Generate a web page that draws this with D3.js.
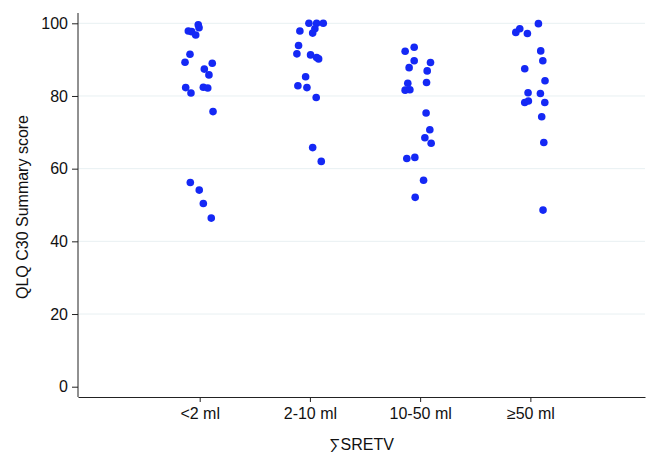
<!DOCTYPE html>
<html>
<head>
<meta charset="utf-8">
<script src="https://cdn.jsdelivr.net/npm/d3@7"></script>
<style>
	body { margin: 0; background: #fff; }
	svg { display: block; font-family: 'Liberation Sans', Arial, sans-serif; }
</style>
</head>
<body>
<div id="chart"></div>
<script>
const categories = ['<2 ml', '2-10 ml', '10-50 ml', '≥50 ml'];
const yTicks = [0, 20, 40, 60, 80, 100];

// QLQ C30 summary score per patient, and horizontal jitter (category units)
const lt2Scores = [97.9, 97.7, 96.8, 99.6, 98.8, 91.5, 89.3, 89.0, 87.4, 85.8, 82.3, 80.8, 82.4, 82.2, 75.7, 56.2, 54.1, 50.4, 46.4];
const lt2Jitter = [-0.103, -0.073, -0.036, -0.013, -0.006, -0.088, -0.133, 0.114, 0.042, 0.084, -0.127, -0.079, 0.033, 0.073, 0.121, -0.085, -0.004, 0.033, 0.105];

const s2to10Scores = [100, 100, 100, 97.9, 97.3, 98.5, 93.9, 91.6, 91.3, 90.6, 90.2, 85.3, 82.8, 82.3, 79.6, 65.8, 62.0];
const s2to10Jitter = [-0.009, 0.061, 0.121, -0.091, 0.025, 0.045, -0.103, -0.118, 0.006, 0.061, 0.079, -0.039, -0.109, -0.027, 0.057, 0.025, 0.103];

const s10to50Scores = [92.3, 93.4, 89.7, 89.2, 87.8, 86.9, 83.5, 83.7, 81.6, 81.7, 75.3, 70.7, 68.5, 67.0, 62.8, 63.1, 56.8, 52.1];
const s10to50Jitter = [-0.136, -0.054, -0.054, 0.094, -0.100, 0.064, -0.112, 0.058, -0.136, -0.093, 0.054, 0.088, 0.043, 0.100, -0.121, -0.048, 0.031, -0.045];

const ge50Scores = [97.5, 98.5, 97.2, 99.9, 92.4, 89.7, 87.5, 84.2, 80.9, 80.7, 78.2, 78.6, 78.2, 74.3, 67.2, 48.6];
const ge50Jitter = [-0.132, -0.096, -0.027, 0.073, 0.094, 0.113, -0.051, 0.133, -0.021, 0.091, -0.051, -0.018, 0.131, 0.103, 0.122, 0.115];

const groups = [
	[lt2Scores, lt2Jitter],
	[s2to10Scores, s2to10Jitter],
	[s10to50Scores, s10to50Jitter],
	[ge50Scores, ge50Jitter],
];

const points = [];
groups.forEach(([scores, jitter], i) => {
	scores.forEach((v, j) => points.push({ x: i + 1 + jitter[j], y: v }));
});

const width = 647;
const height = 452;
const margin = { top: 13, right: 2, bottom: 55, left: 78 };

const svg = d3.select('#chart').append('svg')
	.attr('width', width)
	.attr('height', height);

const xScale = d3.scaleLinear()
	.domain([-0.104, 5.04])
	.range([margin.left, width - margin.right]);

const yScale = d3.scaleLinear()
	.domain([0, 100])
	.range([386.7, 23.3]);

// grid
svg.append('g')
	.selectAll('line')
	.data(yTicks.filter((d) => d > 0))
	.enter()
	.append('line')
	.attr('x1', margin.left)
	.attr('x2', width - margin.right)
	.attr('y1', (d) => yScale(d))
	.attr('y2', (d) => yScale(d))
	.attr('stroke', '#e8f0f2')
	.attr('stroke-width', 1);

const yAxis = d3.axisLeft(yScale)
	.tickValues(yTicks)
	.tickSize(6)
	.tickPadding(4)
	.tickSizeOuter(0);

const yG = svg.append('g')
	.attr('transform', `translate(${margin.left},0)`)
	.call(yAxis);
yG.select('.domain').attr('d', `M0,${margin.top}V${height - margin.bottom}`);

const xAxis = d3.axisBottom(xScale)
	.tickValues([1, 2, 3, 4])
	.tickFormat((d) => categories[d - 1])
	.tickSize(5)
	.tickPadding(6)
	.tickSizeOuter(0);

svg.append('g')
	.attr('transform', `translate(0,${height - margin.bottom})`)
	.call(xAxis);

svg.selectAll('.domain, .tick line').attr('stroke', '#222');
svg.selectAll('.tick text').attr('font-size', 16).attr('fill', '#111');

// points
svg.append('g')
	.selectAll('circle')
	.data(points)
	.enter()
	.append('circle')
	.attr('cx', (d) => xScale(d.x))
	.attr('cy', (d) => yScale(d.y))
	.attr('r', 3.8)
	.attr('fill', '#1428f5');

svg.append('text')
	.attr('transform', `translate(28,${yScale(50) + 2}) rotate(-90)`)
	.attr('text-anchor', 'middle')
	.attr('font-size', 16)
	.attr('fill', '#111')
	.text('QLQ C30 Summary score');

svg.append('text')
	.attr('x', (margin.left + width - margin.right) / 2)
	.attr('y', 450)
	.attr('text-anchor', 'middle')
	.attr('font-size', 16)
	.attr('fill', '#111')
	.text('∑SRETV');
</script>
</body>
</html>
